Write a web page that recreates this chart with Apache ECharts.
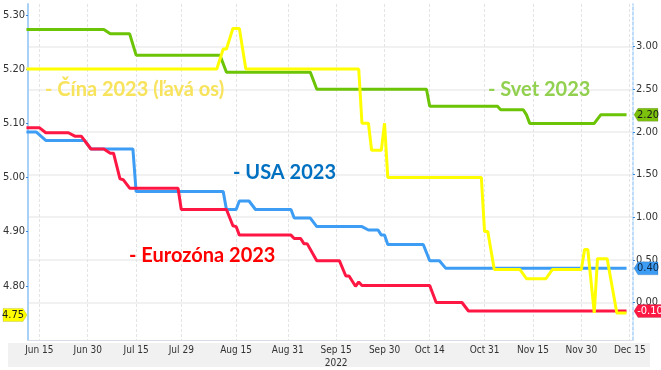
<!DOCTYPE html>
<html><head><meta charset="utf-8">
<script src="https://cdn.jsdelivr.net/npm/echarts@6/dist/echarts.min.js"></script>
<style>html,body{margin:0;padding:0;background:#fff}#c{width:661px;height:370px}</style>
</head><body><div id="c"></div>
<script>
// ---- tick labels ----
const xTickDates = ['2022-06-15','2022-06-30','2022-07-15','2022-07-29','2022-08-15','2022-08-31','2022-09-15','2022-09-30','2022-10-14','2022-10-31','2022-11-15','2022-11-30','2022-12-15'];
const xTickLabels = ['Jun 15','Jun 30','Jul 15','Jul 29','Aug 15','Aug 31','Sep 15\n2022','Sep 30','Oct 14','Oct 31','Nov 15','Nov 30','Dec 15'];
const leftTicks = [4.80, 4.90, 5.00, 5.10, 5.20, 5.30];
const rightTicks = [0, 0.5, 1.0, 1.5, 2.0, 2.5, 3.0];

// ---- Svet 2023 (right axis) ----
const svetDates = ['2022-06-11','2022-07-05','2022-07-07','2022-07-13','2022-07-15','2022-08-10','2022-08-12','2022-09-07','2022-09-09','2022-10-13','2022-10-14','2022-11-04','2022-11-05','2022-11-12','2022-11-13','2022-11-14','2022-12-04','2022-12-06','2022-12-14'];
const svetValues = [3.20,3.20,3.15,3.15,2.90,2.90,2.70,2.70,2.50,2.50,2.30,2.30,2.26,2.26,2.20,2.10,2.10,2.20,2.20];

// ---- Čína 2023 (left axis) ----
const cinaDates = ['2022-06-11','2022-08-09','2022-08-11','2022-08-12','2022-08-14','2022-08-16','2022-08-18','2022-09-22','2022-09-23','2022-09-25','2022-09-26','2022-09-29','2022-09-30','2022-10-01','2022-10-30','2022-10-31','2022-11-01','2022-11-03','2022-11-11','2022-11-13','2022-11-19','2022-11-21','2022-11-30','2022-12-01','2022-12-02','2022-12-04','2022-12-05','2022-12-08','2022-12-11','2022-12-14'];
const cinaValues = [5.20,5.20,5.237,5.237,5.275,5.275,5.20,5.20,5.10,5.10,5.05,5.05,5.10,5.00,5.00,4.90,4.90,4.83,4.83,4.813,4.813,4.83,4.83,4.867,4.867,4.75,4.85,4.85,4.75,4.75];

// ---- USA 2023 (right axis) ----
const usaDates = ['2022-06-11','2022-06-14','2022-06-17','2022-06-29','2022-07-01','2022-07-14','2022-07-15','2022-08-11','2022-08-12','2022-08-15','2022-08-16','2022-08-19','2022-08-21','2022-09-01','2022-09-02','2022-09-07','2022-09-09','2022-09-23','2022-09-25','2022-09-28','2022-09-29','2022-09-30','2022-10-01','2022-10-12','2022-10-14','2022-10-17','2022-10-19','2022-12-14'];
const usaValues = [2.00,2.00,1.90,1.90,1.80,1.80,1.30,1.30,1.09,1.09,1.19,1.19,1.09,1.09,0.99,0.99,0.89,0.89,0.85,0.85,0.79,0.79,0.68,0.68,0.49,0.49,0.40,0.40];

// ---- Eurozóna 2023 (right axis) ----
const euroDates = ['2022-06-11','2022-06-15','2022-06-17','2022-06-24','2022-06-26','2022-06-28','2022-07-01','2022-07-05','2022-07-07','2022-07-08','2022-07-10','2022-07-11','2022-07-13','2022-07-28','2022-07-29','2022-08-12','2022-08-14','2022-08-15','2022-08-16','2022-09-01','2022-09-02','2022-09-04','2022-09-05','2022-09-06','2022-09-09','2022-09-16','2022-09-18','2022-09-19','2022-09-21','2022-09-22','2022-09-23','2022-10-14','2022-10-16','2022-10-24','2022-10-26','2022-12-14'];
const euroValues = [2.05,2.05,1.99,1.99,1.95,1.95,1.80,1.80,1.75,1.75,1.45,1.44,1.34,1.34,1.09,1.09,0.90,0.89,0.79,0.79,0.75,0.75,0.69,0.69,0.49,0.49,0.31,0.31,0.19,0.24,0.20,0.20,0.00,0.00,-0.10,-0.10];

function ts(s){ const p = s.split('-').map(Number); return Date.UTC(p[0], p[1]-1, p[2]); }
function zip(d, v){ return d.map((x,i)=>[ts(x), v[i]]); }

const xTickTs = xTickDates.map(ts);
const xMin = ts('2022-06-11') + 12*3600e3;
const xMax = ts('2022-12-16');
const NARROW = '"Liberation Sans Narrow","DejaVu Sans Condensed",sans-serif';

const chart = echarts.init(document.getElementById('c'), null, {renderer:'canvas'});
const option = {
  animation: false,
  backgroundColor: '#ffffff',
  grid: {left: 27, right: 26, top: 4, bottom: 28, containLabel: false},
  xAxis: {
    type: 'value', min: xMin, max: xMax,
    axisLine: {show: true, onZero: false, lineStyle: {color: '#d6dde6', width: 1}},
    axisTick: {show: false, customValues: xTickTs},
    axisLabel: {
      customValues: xTickTs, margin: 4, color: '#333', fontFamily: NARROW, fontSize: 10, lineHeight: 13,
      formatter: function(v){ const i = xTickTs.indexOf(v); return i >= 0 ? xTickLabels[i] : ''; },
      hideOverlap: false
    },
    splitLine: {show: true, lineStyle: {color: '#e4e4e4', width: 1, type: [3,2]}}
  },
  yAxis: [
    {
      type: 'value', position: 'left', min: 4.70, max: 5.32,
      axisLine: {show: true, onZero: false, lineStyle: {color: '#a9d1f7', width: 2}},
      axisTick: {show: true, length: 2, customValues: leftTicks, lineStyle: {color: '#3a86d8'}},
      axisLabel: {customValues: leftTicks, margin: 3, color: '#333', fontFamily: NARROW, fontSize: 11,
        formatter: v => v.toFixed(2)},
      splitLine: {show: false}
    },
    {
      type: 'value', position: 'right', min: -0.44, max: 3.50,
      axisLine: {show: true, onZero: false, lineStyle: {color: '#a9d1f7', width: 1.5, type: [3,2]}},
      axisTick: {show: true, length: 2, customValues: rightTicks, lineStyle: {color: '#3a86d8'}},
      axisLabel: {customValues: rightTicks, margin: 3, color: '#333', fontFamily: NARROW, fontSize: 11,
        formatter: v => v.toFixed(2)},
      splitLine: {show: true, lineStyle: {color: '#ececec', width: 1.5}}
    }
  ],
  series: [
    {name: 'Svet 2023', type: 'line', yAxisIndex: 1, data: zip(svetDates, svetValues), symbol: 'none',
      lineStyle: {color: '#6cc407', width: 3}, z: 2},
    {name: 'USA 2023', type: 'line', yAxisIndex: 1, data: zip(usaDates, usaValues), symbol: 'none',
      lineStyle: {color: '#3d9df5', width: 3}, z: 3},
    {name: 'Eurozóna 2023', type: 'line', yAxisIndex: 1, data: zip(euroDates, euroValues), symbol: 'none',
      lineStyle: {color: '#ff1744', width: 3}, z: 4},
    {name: 'Čína 2023', type: 'line', yAxisIndex: 0, data: zip(cinaDates, cinaValues), symbol: 'none',
      lineStyle: {color: '#ffff00', width: 3}, z: 5}
  ],
  graphic: [
    {type: 'rect', shape: {x: 8, y: 343, width: 642, height: 24}, style: {fill: '#f1f1f1'}, z: -10, silent: true},
    {type: 'text', z: 20, style: {x: 45, y: 90, text: '- Čína 2023 (ľavá os)', fill: '#f7e35c', font: 'bold 20px Lato', textVerticalAlign: 'middle'}},
    {type: 'text', z: 20, style: {x: 488, y: 90, text: '- Svet 2023', fill: '#92d050', font: 'bold 20px Lato', textVerticalAlign: 'middle'}},
    {type: 'text', z: 20, style: {x: 233, y: 172.5, text: '- USA 2023', fill: '#0070c0', font: 'bold 20px Lato', textVerticalAlign: 'middle'}},
    {type: 'text', z: 20, style: {x: 129, y: 255.5, text: '- Eurozóna 2023', fill: '#ff0000', font: 'bold 20px Lato', textVerticalAlign: 'middle'}}
  ]
};
chart.setOption(option);

// ---- end-value badges, positioned through the chart's own scales ----
function badge(px, py, side, text, bg, fg){
  const w = text.length > 4 ? 28 : 24, h = 13, a = 4;
  const x0 = side === 'right' ? px + 1 : px - 1;
  const s = side === 'right' ? 1 : -1;
  const pts = [[x0, py], [x0 + s*a, py - h/2], [x0 + s*w, py - h/2], [x0 + s*w, py + h/2], [x0 + s*a, py + h/2]];
  return [
    {type: 'polygon', shape: {points: pts}, style: {fill: bg, stroke: 'rgba(0,0,0,0.25)', lineWidth: 0.5}, z: 50},
    {type: 'text', z: 51, style: {x: x0 + s*(a + (w - a)/2), y: py, text: text, fill: fg,
      font: '11px ' + NARROW, textAlign: 'center', textVerticalAlign: 'middle'}}
  ];
}
const last = a => a[a.length - 1];
const g = [];
const pR = v => chart.convertToPixel({xAxisIndex: 0, yAxisIndex: 1}, [xMax, v]);
const pL = v => chart.convertToPixel({xAxisIndex: 0, yAxisIndex: 0}, [xMin, v]);
let p;
p = pR(last(svetValues)); g.push(...badge(p[0], p[1], 'right', last(svetValues).toFixed(2), '#7cc20c', '#1a1a1a'));
p = pR(last(usaValues)); g.push(...badge(p[0], p[1], 'right', last(usaValues).toFixed(2), '#3d9df5', '#10253f'));
p = pR(last(euroValues)); g.push(...badge(p[0], p[1], 'right', last(euroValues).toFixed(2), '#ff1744', '#ffffff'));
p = pL(last(cinaValues)); g.push(...badge(p[0], p[1] + 2, 'left', last(cinaValues).toFixed(2), '#ffff00', '#1a1a1a'));
chart.setOption({graphic: option.graphic.concat(g)});
</script>
</body></html>
